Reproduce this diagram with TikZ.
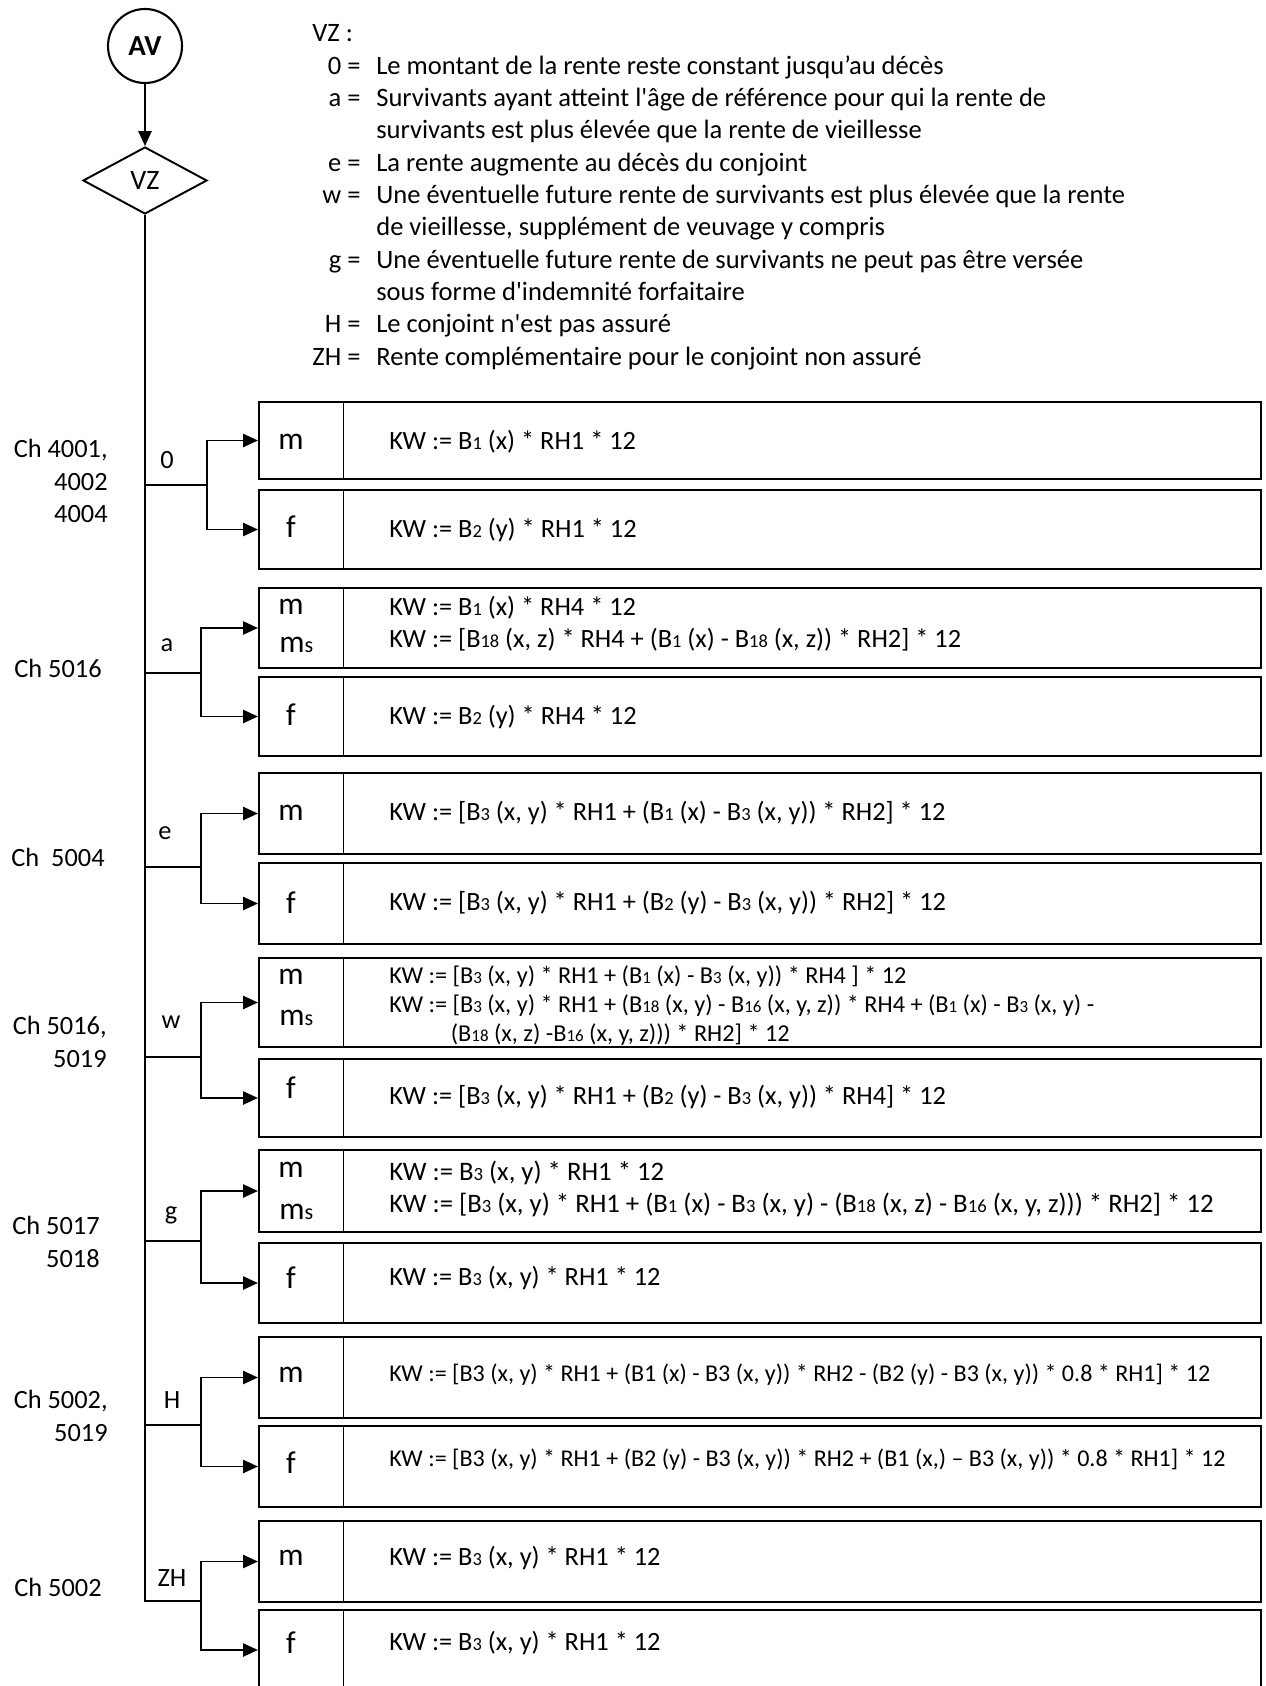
\documentclass[tikz,border=0pt]{standalone}
\usepackage{fontspec}
\setmainfont{Carlito}
\usepackage{graphicx}
\usetikzlibrary{arrows.meta,shapes.geometric}

\newcommand{\bi}[1]{\scalebox{0.7}{#1}}
\newcommand{\sq}{\textquotesingle}

\begin{document}
\begin{tikzpicture}[
        font=\fontsize{15}{18}\selectfont,
        ln/.style={line width=1.1pt},
        arr/.style={ln, -{Triangle[length=8.5pt,width=7.5pt]}},
        sep/.style={line width=0.6pt},
        rowbox/.style={draw, line width=1.2pt, minimum width=20.04cm, inner sep=0pt},
        sex/.style={inner sep=0pt, font=\fontsize{18}{21}\selectfont},
        kw/.style={anchor=west, align=left, inner sep=0pt},
        kwsmall/.style={kw, font=\fontsize{13.7}{16.7}\selectfont},
        code/.style={inner sep=0pt},
        ch/.style={anchor=east, align=right, inner sep=0pt, font=\fontsize{15}{18.7}\selectfont}]

    \useasboundingbox (0,0) rectangle (25.30,-33.72);

    % ---------- start, decision and legend ----------
    \node[draw, circle, line width=1.2pt, minimum size=1.48cm, inner sep=0pt,
          font=\fontsize{16.5}{20}\selectfont\bfseries] (av) at (2.90,-0.92) {AV};
    \node[draw, diamond, line width=1.1pt, minimum width=2.48cm, minimum height=1.34cm,
          inner sep=0pt, font=\fontsize{16}{19}\selectfont] (vz) at (2.90,-3.61) {VZ};
    \draw[arr] (av) -- (vz);

    \node[anchor=north west, inner sep=0pt, font=\fontsize{15.1}{18.4}\selectfont] (legend) at (6.24,-0.38) {%
        \begin{tabular}{@{}r@{\hspace{9pt}}l@{}}
        \multicolumn{2}{@{}l}{VZ :}\\
        0 = & Le montant de la rente reste constant jusqu’au décès\\
        a = & Survivants ayant atteint l\sq âge de référence pour qui la rente de\\
            & survivants est plus élevée que la rente de vieillesse\\
        e = & La rente augmente au décès du conjoint\\
        w = & Une éventuelle future rente de survivants est plus élevée que la rente\\
            & de vieillesse, supplément de veuvage y compris\\
        g = & Une éventuelle future rente de survivants ne peut pas être versée\\
            & sous forme d\sq indemnité forfaitaire\\
        H = & Le conjoint n\sq est pas assuré\\
        ZH = & Rente complémentaire pour le conjoint non assuré
        \end{tabular}};

    % ---------- result boxes ----------
    \node[rowbox, minimum height=1.54cm] (b0m) at (15.20,-8.81) {};
    \node[rowbox, minimum height=1.58cm] (b0f) at (15.20,-10.59) {};
    \node[rowbox, minimum height=1.60cm] (bam) at (15.20,-12.56) {};
    \node[rowbox, minimum height=1.58cm] (baf) at (15.20,-14.33) {};
    \node[rowbox, minimum height=1.62cm] (bem) at (15.20,-16.27) {};
    \node[rowbox, minimum height=1.62cm] (bef) at (15.20,-18.07) {};
    \node[rowbox, minimum height=1.78cm] (bwm) at (15.20,-20.05) {};
    \node[rowbox, minimum height=1.56cm] (bwf) at (15.20,-21.96) {};
    \node[rowbox, minimum height=1.64cm] (bgm) at (15.20,-23.82) {};
    \node[rowbox, minimum height=1.60cm] (bgf) at (15.20,-25.66) {};
    \node[rowbox, minimum height=1.62cm] (bHm) at (15.20,-27.55) {};
    \node[rowbox, minimum height=1.62cm] (bHf) at (15.20,-29.33) {};
    \node[rowbox, minimum height=1.62cm] (bZHm) at (15.20,-31.23) {};
    \node[rowbox, minimum height=1.60cm] (bZHf) at (15.20,-33.00) {};

    \draw[sep] ([xshift=1.72cm]b0m.north west) -- ([xshift=1.72cm]b0m.south west);
    \draw[sep] ([xshift=1.72cm]b0f.north west) -- ([xshift=1.72cm]b0f.south west);
    \draw[sep] ([xshift=1.72cm]bam.north west) -- ([xshift=1.72cm]bam.south west);
    \draw[sep] ([xshift=1.72cm]baf.north west) -- ([xshift=1.72cm]baf.south west);
    \draw[sep] ([xshift=1.72cm]bem.north west) -- ([xshift=1.72cm]bem.south west);
    \draw[sep] ([xshift=1.72cm]bef.north west) -- ([xshift=1.72cm]bef.south west);
    \draw[sep] ([xshift=1.72cm]bwm.north west) -- ([xshift=1.72cm]bwm.south west);
    \draw[sep] ([xshift=1.72cm]bwf.north west) -- ([xshift=1.72cm]bwf.south west);
    \draw[sep] ([xshift=1.72cm]bgm.north west) -- ([xshift=1.72cm]bgm.south west);
    \draw[sep] ([xshift=1.72cm]bgf.north west) -- ([xshift=1.72cm]bgf.south west);
    \draw[sep] ([xshift=1.72cm]bHm.north west) -- ([xshift=1.72cm]bHm.south west);
    \draw[sep] ([xshift=1.72cm]bHf.north west) -- ([xshift=1.72cm]bHf.south west);
    \draw[sep] ([xshift=1.72cm]bZHm.north west) -- ([xshift=1.72cm]bZHm.south west);
    \draw[sep] ([xshift=1.72cm]bZHf.north west) -- ([xshift=1.72cm]bZHf.south west);

    % m / f column
    \node[sex] (s0m) at (5.82,-8.84) {m};
    \node[sex] (s0f) at (5.82,-10.54) {f};
    \node[sex] (sam) at (5.82,-12.14) {m};
    \node[sex, anchor=west] (sams) at (5.58,-12.90) {m\bi{s}};
    \node[sex] (saf) at (5.82,-14.30) {f};
    \node[sex] (sem) at (5.82,-16.26) {m};
    \node[sex] (sef) at (5.82,-18.06) {f};
    \node[sex] (swm) at (5.82,-19.54) {m};
    \node[sex, anchor=west] (swms) at (5.58,-20.36) {m\bi{s}};
    \node[sex] (swf) at (5.82,-21.76) {f};
    \node[sex] (sgm) at (5.82,-23.40) {m};
    \node[sex, anchor=west] (sgms) at (5.58,-24.24) {m\bi{s}};
    \node[sex] (sgf) at (5.82,-25.56) {f};
    \node[sex] (sHm) at (5.82,-27.50) {m};
    \node[sex] (sHf) at (5.82,-29.26) {f};
    \node[sex] (sZHm) at (5.82,-31.16) {m};
    \node[sex] (sZHf) at (5.82,-32.86) {f};

    % formulas
    \node[kw] (k0m) at (7.78,-8.84) {KW := B\bi{1} (x) * RH1 * 12};
    \node[kw] (k0f) at (7.78,-10.60) {KW := B\bi{2} (y) * RH1 * 12};
    \node[kw, font=\fontsize{15}{18.1}\selectfont] (kam) at (7.78,-12.48)
        {KW := B\bi{1} (x) * RH4 * 12\\
         KW := [B\bi{18} (x, z) * RH4 + (B\bi{1} (x) - B\bi{18} (x, z)) * RH2] * 12};
    \node[kw] (kaf) at (7.78,-14.34) {KW := B\bi{2} (y) * RH4 * 12};
    \node[kw] (kem) at (7.78,-16.26) {KW := [B\bi{3} (x, y) * RH1 + (B\bi{1} (x) - B\bi{3} (x, y)) * RH2] * 12};
    \node[kw] (kef) at (7.78,-18.06) {KW := [B\bi{3} (x, y) * RH1 + (B\bi{2} (y) - B\bi{3} (x, y)) * RH2] * 12};
    \node[kwsmall, font=\fontsize{13.8}{16.7}\selectfont] (kwm) at (7.78,-20.11)
        {KW := [B\bi{3} (x, y) * RH1 + (B\bi{1} (x) - B\bi{3} (x, y)) * RH4 ] * 12\\
         KW := [B\bi{3} (x, y) * RH1 + (B\bi{18} (x, y) - B\bi{16} (x, y, z)) * RH4 + (B\bi{1} (x) - B\bi{3} (x, y) -\\
         \hspace*{35pt}(B\bi{18} (x, z) -B\bi{16} (x, y, z))) * RH2] * 12};
    \node[kw] (kwf) at (7.78,-21.94) {KW := [B\bi{3} (x, y) * RH1 + (B\bi{2} (y) - B\bi{3} (x, y)) * RH4] * 12};
    \node[kw, font=\fontsize{15.2}{18.1}\selectfont] (kgm) at (7.78,-23.78)
        {KW := B\bi{3} (x, y) * RH1 * 12\\
         KW := [B\bi{3} (x, y) * RH1 + (B\bi{1} (x) - B\bi{3} (x, y) - (B\bi{18} (x, z) - B\bi{16} (x, y, z))) * RH2] * 12};
    \node[kw] (kgf) at (7.78,-25.56) {KW := B\bi{3} (x, y) * RH1 * 12};
    \node[kwsmall] (kHm) at (7.78,-27.50) {KW := [B3 (x, y) * RH1 + (B1 (x) - B3 (x, y)) * RH2 - (B2 (y) - B3 (x, y)) * 0.8 * RH1] * 12};
    \node[kwsmall] (kHf) at (7.78,-29.20) {KW := [B3 (x, y) * RH1 + (B2 (y) - B3 (x, y)) * RH2 + (B1 (x,) – B3 (x, y)) * 0.8 * RH1] * 12};
    \node[kw] (kZHm) at (7.78,-31.16) {KW := B\bi{3} (x, y) * RH1 * 12};
    \node[kw] (kZHf) at (7.78,-32.86) {KW := B\bi{3} (x, y) * RH1 * 12};

    % ---------- branches ----------
    \coordinate (t0) at (2.90,-9.70);   \coordinate (j0) at (4.14,-9.70);
    \coordinate (ta) at (2.90,-13.46);  \coordinate (ja) at (4.02,-13.46);
    \coordinate (te) at (2.90,-17.34);  \coordinate (je) at (4.02,-17.34);
    \coordinate (tw) at (2.90,-21.14);  \coordinate (jw) at (4.02,-21.14);
    \coordinate (tg) at (2.90,-24.82);  \coordinate (jg) at (4.02,-24.82);
    \coordinate (tH) at (2.90,-28.50);  \coordinate (jH) at (4.02,-28.50);
    \coordinate (tZH) at (2.90,-32.02); \coordinate (jZH) at (4.02,-32.02);

    \draw[ln] (vz.south) -- (tZH) -- (jZH);
    \draw[ln] (t0) -- (j0);
    \draw[ln] (ta) -- (ja);
    \draw[ln] (te) -- (je);
    \draw[ln] (tw) -- (jw);
    \draw[ln] (tg) -- (jg);
    \draw[ln] (tH) -- (jH);

    \draw[arr] (j0) |- (b0m.west);   \draw[arr] (j0) |- (b0f.west);
    \draw[arr] (ja) |- (bam.west);   \draw[arr] (ja) |- (baf.west);
    \draw[arr] (je) |- (bem.west);   \draw[arr] (je) |- (bef.west);
    \draw[arr] (jw) |- (bwm.west);   \draw[arr] (jw) |- (bwf.west);
    \draw[arr] (jg) |- (bgm.west);   \draw[arr] (jg) |- (bgf.west);
    \draw[arr] (jH) |- (bHm.west);   \draw[arr] (jH) |- (bHf.west);
    \draw[arr] (jZH) |- (bZHm.west); \draw[arr] (jZH) |- (bZHf.west);

    % branch values
    \node[code] (c0) at (3.34,-9.20) {0};
    \node[code] (ca) at (3.34,-12.90) {a};
    \node[code] (ce) at (3.30,-16.66) {e};
    \node[code] (cw) at (3.42,-20.44) {w};
    \node[code] (cg) at (3.42,-24.30) {g};
    \node[code] (cH) at (3.44,-28.00) {H};
    \node[code] (cZH) at (3.44,-31.56) {ZH};

    % chapter references
    \node[ch] (ch0) at (2.16,-9.62) {Ch 4001,\\4002\\4004};
    \node[ch] (cha) at (2.04,-13.36) {Ch 5016};
    \node[ch] (che) at (2.10,-17.14) {Ch~ 5004};
    \node[ch] (chw) at (2.14,-20.84) {Ch 5016,\\5019};
    \node[ch] (chg) at (2.00,-24.84) {Ch 5017\\5018};
    \node[ch] (chH) at (2.16,-28.32) {Ch 5002,\\5019};
    \node[ch] (chZH) at (2.04,-31.74) {Ch 5002};
    \end{tikzpicture}
\end{document}
